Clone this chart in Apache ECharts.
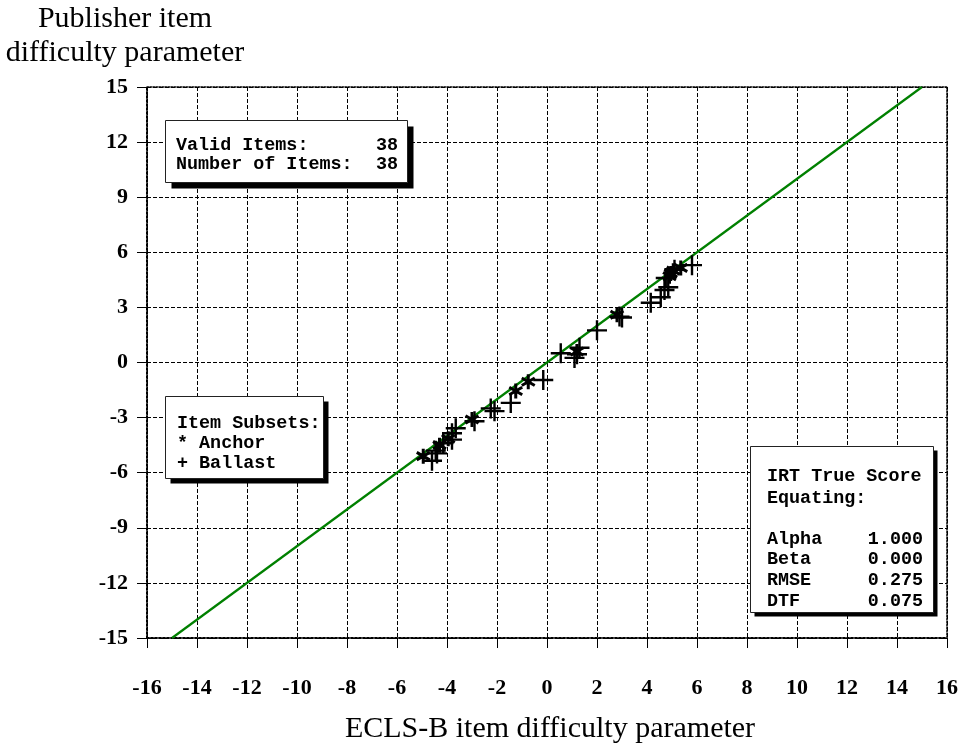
<!DOCTYPE html>
<html><head><meta charset="utf-8">
<script src="https://cdn.jsdelivr.net/npm/echarts@6/dist/echarts.min.js"></script>
<style>html,body{margin:0;padding:0;background:#fff}#c{width:965px;height:744px}</style>
</head><body><div id="c"></div>
<script>
// ---- data ----
const xRange = [-16, 16];
const yRange = [-15, 15];
const xStep = 2;
const yStep = 3;
const anchor = [
  [-4.95,-5.1],[-4.3,-4.5],[-3.95,-4.15],[-3.0,-3.1],[-1.25,-1.55],[-0.75,-1.05],
  [1.2,0.6],[2.8,2.6],[4.9,4.7],[4.95,4.85],[5.05,5.0],[5.35,5.15]
];
const ballast = [
  [-4.6,-5.35],[-4.45,-4.8],[-4.4,-4.95],[-4.15,-4.4],[-3.8,-3.85],[-3.8,-4.2],[-3.65,-3.58],
  [-2.9,-3.2],[-2.25,-2.5],[-2.1,-2.65],[-1.45,-2.2],[-0.15,-0.95],[0.55,0.5],[1.1,0.25],
  [1.2,0.45],[1.3,0.8],[2.0,1.75],[3.0,2.45],[2.9,2.5],[4.15,3.25],[4.55,3.55],[4.7,3.95],
  [4.85,4.1],[4.75,4.6],[5.1,5.05],[5.8,5.3]
];
const fitLine = [[-15,-15],[15,15]];
const statsBox = [["Valid Items:", "38"], ["Number of Items:", "38"]];
const subsetLines = ["Item Subsets:", "* Anchor", "+ Ballast"];
const equatingHead = ["IRT True Score", "Equating:"];
const equatingStats = [["Alpha","1.000"],["Beta","0.000"],["RMSE","0.275"],["DTF","0.075"]];
const xTitle = "ECLS-B item difficulty parameter";
const yTitle = ["Publisher item", "difficulty parameter"];

// ---- symbols ----
function rotRect(angle, t) {
  const a = angle * Math.PI / 180, c = Math.cos(a), s = Math.sin(a);
  const pts = [[-t,-1],[t,-1],[t,1],[-t,1]].map(([x,y]) => [x*c - y*s, x*s + y*c]);
  return 'M' + pts.map(p => p[0].toFixed(4) + ',' + p[1].toFixed(4)).join(' L') + ' Z';
}
const plusPath = 'path://' + rotRect(0, 0.12) + ' ' + rotRect(90, 0.12);
const starPath = 'path://' + rotRect(0, 0.2) + ' ' + rotRect(60, 0.2) + ' ' + rotRect(120, 0.2);

const mono = 'bold 18.4px "Liberation Mono", "Courier New", monospace';
const serif = '"Liberation Serif", "Times New Roman", serif';

function box(x, y, w, h, sh) {
  return [
    {type:'rect', shape:{x:x+sh, y:y+sh, width:w, height:h}, style:{fill:'#000'}, z:100},
    {type:'rect', shape:{x:x, y:y, width:w, height:h}, style:{fill:'#fff', stroke:'#222', lineWidth:1}, z:101}
  ];
}
function txt(x, y, s, align) {
  return {type:'text', z:102, style:{x:x, y:y, text:s, font:mono, fill:'#000', textAlign:align||'left', textVerticalAlign:'middle'}};
}
const g = [];
g.push(...box(165.5, 120.5, 242, 62, 6));
statsBox.forEach((r,i) => { g.push(txt(176, 145 + i*19, r[0])); g.push(txt(398, 145 + i*19, r[1], 'right')); });
g.push(...box(165.5, 396.5, 158, 82, 5));
subsetLines.forEach((s,i) => g.push(txt(177, 423 + i*20, s)));
g.push(...box(750.5, 446.5, 183, 166, 4));
equatingHead.forEach((s,i) => g.push(txt(767, 476 + i*22, s)));
equatingStats.forEach((r,i) => { g.push(txt(767, 539 + i*20.7, r[0])); g.push(txt(923, 539 + i*20.7, r[1], 'right')); });
g.push({type:'text', style:{x:550, y:729, text:xTitle, font:'30px ' + serif, fill:'#000', textAlign:'center', textVerticalAlign:'middle'}});
yTitle.forEach((s,i) => g.push({type:'text', style:{x:125, y:19 + i*34, text:s, font:'30px ' + serif, fill:'#000', textAlign:'center', textVerticalAlign:'middle'}}));

const dotted = {color:'#000', width:2, type:'dotted'};
const labelFont = {fontFamily: serif, fontWeight:'bold', fontSize:22, color:'#000'};

const chart = echarts.init(document.getElementById('c'), null, {renderer:'canvas'});
chart.setOption({
  animation:false,
  backgroundColor:'#fff',
  grid:{left:147, right:18, top:87, bottom:106, containLabel:false},
  xAxis:[
    {type:'value', min:xRange[0], max:xRange[1], interval:xStep, position:'bottom',
     axisLine:{show:true, onZero:false, lineStyle:dotted},
     axisTick:{show:true, length:10, lineStyle:{color:'#000', width:1}},
     axisLabel:Object.assign({margin:39}, labelFont),
     splitLine:{show:true, lineStyle:{color:'#000', width:1, type:[4,2]}}},
    {type:'value', min:xRange[0], max:xRange[1], interval:xStep, position:'top',
     axisLine:{show:true, onZero:false, lineStyle:{color:'#000', width:1.5, type:'dotted'}},
     axisTick:{show:false}, axisLabel:{show:false}, splitLine:{show:false}}
  ],
  yAxis:[
    {type:'value', min:yRange[0], max:yRange[1], interval:yStep, position:'left',
     axisLine:{show:true, onZero:false, lineStyle:dotted},
     axisTick:{show:true, length:10, lineStyle:{color:'#000', width:1}},
     axisLabel:Object.assign({margin:19}, labelFont),
     splitLine:{show:true, lineStyle:{color:'#000', width:1, type:[4,2]}}},
    {type:'value', min:yRange[0], max:yRange[1], interval:yStep, position:'right',
     axisLine:{show:true, onZero:false, lineStyle:{color:'#000', width:1.5, type:'dotted'}},
     axisTick:{show:false}, axisLabel:{show:false}, splitLine:{show:false}}
  ],
  series:[
    {type:'line', data:fitLine, symbol:'none', lineStyle:{color:'#008000', width:2.2}, z:3, silent:true},
    {type:'scatter', name:'Ballast', data:ballast, symbol:plusPath, symbolSize:20, itemStyle:{color:'#000', opacity:1}, z:4},
    {type:'scatter', name:'Anchor', data:anchor, symbol:starPath, symbolSize:15, symbolKeepAspect:true, itemStyle:{color:'#000', opacity:1}, z:5}
  ],
  graphic:{elements:g}
});
</script>
</body></html>
